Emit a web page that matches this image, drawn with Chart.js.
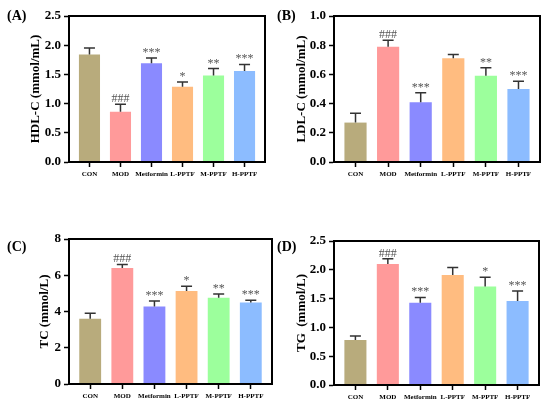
<!DOCTYPE html>
<html>
<head>
<meta charset="utf-8">
<script src="https://cdn.jsdelivr.net/npm/chart.js@4"></script>
<style>
  body { margin: 0; background: #fff; }
  #wrap { position: relative; width: 550px; height: 409px; }
  canvas { position: absolute; }
  .tag { position: absolute; font: bold 14px "Liberation Serif", serif; line-height: 16px; color: #000; }
</style>
</head>
<body>
<div id="wrap">
  <canvas id="cA" width="275" height="205" style="left:0;top:0"></canvas>
  <canvas id="cB" width="275" height="205" style="left:275px;top:0"></canvas>
  <canvas id="cC" width="275" height="204" style="left:0;top:205px"></canvas>
  <canvas id="cD" width="275" height="204" style="left:275px;top:205px"></canvas>
  <div class="tag" style="left:7px;top:8px">(A)</div>
  <div class="tag" style="left:277px;top:8px">(B)</div>
  <div class="tag" style="left:7px;top:239px">(C)</div>
  <div class="tag" style="left:277px;top:239px">(D)</div>
</div>
<script>
// groups
const groups = ['CON', 'MOD', 'Metformin', 'L-PPTF', 'M-PPTF', 'H-PPTF'];
const barColors = ['#b8ab7c', '#ff9a9a', '#8a8aff', '#ffbc80', '#9cff9c', '#8cbcff'];

// HDL-C
const hdlMean = [1.84, 0.86, 1.69, 1.29, 1.48, 1.56];
const hdlErr  = [0.11, 0.13, 0.09, 0.08, 0.12, 0.11];
const hdlSig  = ['', '###', '***', '*', '**', '***'];

// LDL-C
const ldlMean = [0.27, 0.79, 0.41, 0.71, 0.59, 0.50];
const ldlErr  = [0.064, 0.044, 0.064, 0.027, 0.056, 0.053];
const ldlSig  = ['', '###', '***', '', '**', '***'];

// TC
const tcMean = [3.60, 6.40, 4.27, 5.13, 4.76, 4.49];
const tcErr  = [0.31, 0.20, 0.31, 0.27, 0.20, 0.13];
const tcSig  = ['', '###', '***', '*', '**', '***'];

// TG
const tgMean = [0.78, 2.10, 1.43, 1.91, 1.71, 1.46];
const tgErr  = [0.07, 0.09, 0.09, 0.13, 0.16, 0.17];
const tgSig  = ['', '###', '***', '', '*', '***'];

const FONT = '"Liberation Serif", "Times New Roman", serif';

// 上侧误差线 + 显著性标记
const errorBarPlugin = {
  id: 'errorBars',
  afterDatasetsDraw(chart, args, opts) {
    const ctx = chart.ctx;
    const meta = chart.getDatasetMeta(0);
    const yScale = chart.scales.y;
    ctx.save();
    ctx.strokeStyle = '#333';
    ctx.lineWidth = 1.5;
    ctx.fillStyle = '#555';
    ctx.font = '12px ' + FONT;
    ctx.textAlign = 'center';
    ctx.textBaseline = 'alphabetic';
    meta.data.forEach((bar, i) => {
      const yTop = yScale.getPixelForValue(opts.mean[i] + opts.err[i]);
      ctx.beginPath();
      ctx.moveTo(bar.x, bar.y);
      ctx.lineTo(bar.x, yTop);
      ctx.moveTo(bar.x - 5.5, yTop);
      ctx.lineTo(bar.x + 5.5, yTop);
      ctx.stroke();
      if (opts.sig[i]) ctx.fillText(opts.sig[i], bar.x, yTop - 2);
    });
    ctx.restore();
  }
};

// 上边和右边框
const framePlugin = {
  id: 'frame',
  afterDraw(chart) {
    const a = chart.chartArea;
    const ctx = chart.ctx;
    ctx.save();
    ctx.strokeStyle = '#000';
    ctx.lineWidth = 2;
    ctx.strokeRect(a.left, a.top, a.right - a.left, a.bottom - a.top);
    ctx.restore();
  }
};

function makePanel(id, p) {
  const canvas = document.getElementById(id);
  const W = canvas.width, H = canvas.height;
  const isMajor = (v) => Math.abs(v / p.major - Math.round(v / p.major)) < 1e-6;
  return new Chart(canvas, {
    type: 'bar',
    data: {
      datasets: [{
        data: p.mean.map((v, i) => ({ x: i, y: v })),
        backgroundColor: barColors,
        borderWidth: 0,
        categoryPercentage: 1,
        barPercentage: 0.68
      }]
    },
    options: {
      responsive: false,
      animation: false,
      layout: { padding: { left: p.padLeft, right: W - p.right, top: p.top, bottom: 0 } },
      plugins: {
        legend: { display: false },
        tooltip: { enabled: false },
        errorBars: { mean: p.mean, err: p.err, sig: p.sig }
      },
      scales: {
        x: {
          type: 'linear',
          min: -0.66,
          max: 5.66,
          offset: false,
          afterFit: (s) => { s.height = H - p.bottom; },
          grid: { offset: false, drawOnChartArea: false, tickLength: 5, tickColor: '#000', tickWidth: 1.5 },
          border: { color: '#000', width: 2 },
          ticks: {
            stepSize: 1,
            includeBounds: false,
            autoSkip: false,
            maxRotation: 0,
            minRotation: 0,
            padding: 3,
            color: '#000',
            font: { family: FONT, size: 7, weight: 'bold' },
            callback: (v) => groups[v] ?? ''
          }
        },
        y: {
          min: 0,
          max: p.yMax,
          afterFit: (s) => { s.width = p.left - p.padLeft; },
          grid: {
            drawOnChartArea: false,
            tickLength: 5,
            tickColor: '#000',
            tickWidth: (c) => isMajor(c.tick.value) ? 1.5 : 1
          },
          border: { color: '#000', width: 2 },
          ticks: {
            stepSize: p.major / 2,
            padding: 3,
            color: '#000',
            font: { family: FONT, size: 13, weight: 'bold' },
            callback: (v) => isMajor(v) ? v.toFixed(p.dec) : ''
          },
          title: {
            display: true,
            text: p.title,
            color: '#000',
            padding: { top: 0, bottom: 0 },
            font: { family: FONT, size: 13, weight: 'bold' }
          }
        }
      }
    },
    plugins: [errorBarPlugin, framePlugin]
  });
}

makePanel('cA', { title: 'HDL-C (mmol/mL)', mean: hdlMean, err: hdlErr, sig: hdlSig,
  yMax: 2.5, major: 0.5, dec: 1, padLeft: 28, left: 69, right: 265, top: 16, bottom: 162 });
makePanel('cB', { title: 'LDL-C (mmol/mL)', mean: ldlMean, err: ldlErr, sig: ldlSig,
  yMax: 1.0, major: 0.2, dec: 1, padLeft: 19, left: 59, right: 265, top: 16, bottom: 162 });
makePanel('cC', { title: 'TC (mmol/L)', mean: tcMean, err: tcErr, sig: tcSig,
  yMax: 8, major: 2, dec: 0, padLeft: 37, left: 69, right: 272, top: 34, bottom: 179 });
makePanel('cD', { title: 'TG  (mmol/L)', mean: tgMean, err: tgErr, sig: tgSig,
  yMax: 2.5, major: 0.5, dec: 1, padLeft: 19, left: 59, right: 264, top: 36, bottom: 180 });
</script>
</body>
</html>
